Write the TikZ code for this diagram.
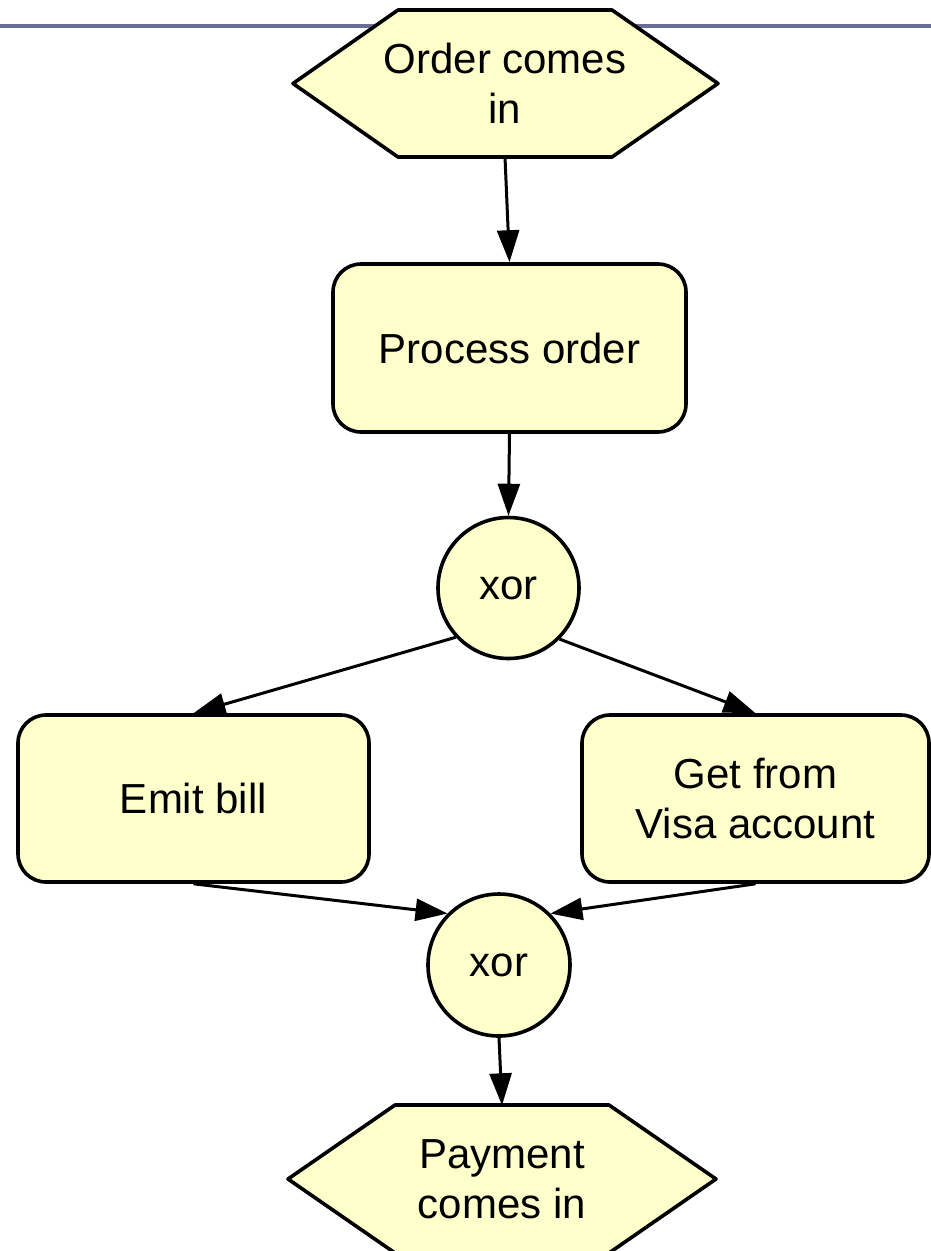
\documentclass[tikz,border=0pt]{standalone}
\usepackage{fontspec}
\setmainfont{Liberation Sans}
\usetikzlibrary{arrows.meta}
\definecolor{nodefill}{RGB}{255,255,204}
\definecolor{rulecol}{RGB}{106,110,150}
\begin{document}
\begin{tikzpicture}[x=1pt,y=-1pt,
  lbl/.style={font=\fontsize{42}{50}\selectfont, align=center, inner sep=0pt},
  shp/.style={draw=black, fill=nodefill, line width=3.6pt, line join=round},
  task/.style={lbl, shp, rectangle, rounded corners=28pt},
  gate/.style={lbl, shp, circle},
  event/.style={lbl, minimum width=214pt, minimum height=147pt},
  flow/.style={line width=3pt, -{Triangle[length=32pt,width=22pt]}}
]
\useasboundingbox (0,0) rectangle (931,1251);
% top rule
\draw[rulecol, line width=3.4pt] (0,26) -- (931,26);
% start event
\draw[shp] (398,10) -- (612,10) -- (718,83.5) -- (612,157) -- (398,157) -- (293,83.5) -- cycle;
\node[event] (order) at (505,83.5) {Order comes\\in};
% tasks and gates
\node[task, minimum width=353pt, minimum height=168pt] (proc) at (509.5,348) {Process order};
\node[gate, minimum size=141pt] (xor1) at (508.5,588) {xor};
\node[task, minimum width=351pt, minimum height=167pt] (emit) at (193.5,798.5) {Emit bill};
\node[task, minimum width=347pt, minimum height=167pt] (visa) at (755.5,798.5) {Get from\\Visa account};
\node[gate, minimum size=142pt] (xor2) at (499,965) {xor};
% end event
\draw[shp] (395,1105) -- (609,1105) -- (716,1179) -- (609,1253) -- (395,1253) -- (288,1179) -- cycle;
\node[event] (pay) at (502,1179) {Payment\\comes in};
% flows
\draw[flow] (order.south) -- (proc.north);
\draw[flow] (proc.south) -- (xor1.north);
\draw[flow] (xor1.-137.5) -- (emit.north);
\draw[flow] (xor1.-45) -- (visa.north);
\draw[flow] (emit.south) -- (xor2.135);
\draw[flow] (visa.south) -- (xor2.45);
\draw[flow] (xor2.south) -- (pay.north);
\end{tikzpicture}
\end{document}
